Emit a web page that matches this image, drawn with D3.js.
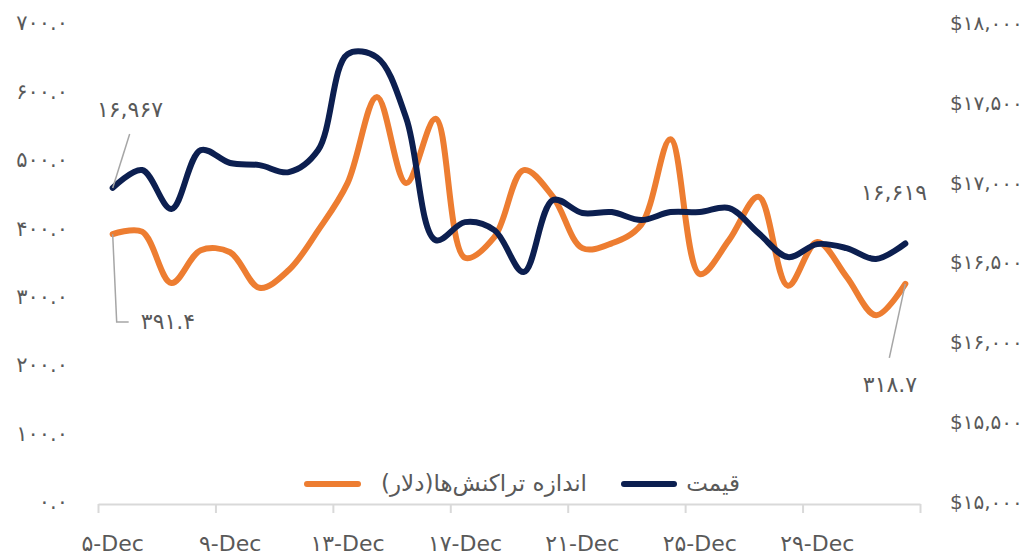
<!DOCTYPE html>
<html>
<head>
<meta charset="utf-8">
<script src="https://cdn.jsdelivr.net/npm/d3@7"></script>
<style>
  body { margin: 0; background: #fff; }
  svg text { font-family: "DejaVu Sans", "Noto Sans", sans-serif; fill: #595959; }
</style>
</head>
<body>
<svg id="chart" width="1035" height="557"></svg>
<script>
// dates (5 Dec - 1 Jan)
var days = ["5-Dec","6-Dec","7-Dec","8-Dec","9-Dec","10-Dec","11-Dec","12-Dec","13-Dec","14-Dec",
            "15-Dec","16-Dec","17-Dec","18-Dec","19-Dec","20-Dec","21-Dec","22-Dec","23-Dec","24-Dec",
            "25-Dec","26-Dec","27-Dec","28-Dec","29-Dec","30-Dec","31-Dec","1-Jan"];

// average transaction size (USD) - left axis
var txSize = [391.4, 395, 320, 368, 365, 313, 339, 397, 466, 592,
              466, 560, 357, 387, 485, 446, 371, 378, 405, 530,
              333, 383, 446, 316, 380, 329, 273, 318.7];

// price - right axis
var price = [16967, 17079, 16835, 17204, 17123, 17110, 17066, 17204, 17805, 17785,
             17404, 16640, 16753, 16703, 16440, 16891, 16810, 16816, 16766, 16816,
             16816, 16841, 16684, 16534, 16615, 16590, 16522, 16619];

var leftTicks = [0, 100, 200, 300, 400, 500, 600, 700];
var rightTicks = [15000, 15500, 16000, 16500, 17000, 17500, 18000];
var labelEvery = 4;

var seriesNames = ["اندازه تراکنش‌ها(دلار)", "قیمت"];
var colors = ["#ED7D31", "#0C1F50"];

// persian digits
function fa(s) {
  return String(s).replace(/[0-9]/g, function(c) { return "۰۱۲۳۴۵۶۷۸۹"[+c]; });
}

var svg = d3.select("#chart");

var x = d3.scaleLinear().domain([0, days.length]).range([98, 920]);
var yL = d3.scaleLinear().domain([0, 700]).range([502, 23]);
var yR = d3.scaleLinear().domain([15000, 18000]).range([502, 23]);

// x axis
var xAxis = d3.axisBottom(x)
  .tickValues(d3.range(0, days.length + 1, labelEvery))
  .tickFormat("")
  .tickSizeInner(9)
  .tickSizeOuter(0);
var gx = svg.append("g").attr("transform", "translate(0,504)").call(xAxis);
gx.select(".domain").attr("stroke", "#d9d9d9").attr("stroke-width", 2);
gx.selectAll(".tick line").attr("stroke", "#d9d9d9").attr("stroke-width", 2);

svg.append("g").selectAll("text")
  .data(days.filter(function(d, i) { return i % labelEvery == 0; }))
  .enter().append("text")
  .attr("x", function(d, i) { return x(i * labelEvery + 0.5); })
  .attr("y", 551)
  .attr("text-anchor", "middle")
  .style("font-size", "22px")
  .text(function(d) { return fa(d); });

// left axis
var gl = svg.append("g").attr("transform", "translate(68,0)")
  .call(d3.axisLeft(yL).tickValues(leftTicks).tickSize(0).tickPadding(0)
    .tickFormat(function(d) { return fa(d.toFixed(1)); }));
gl.select(".domain").remove();
gl.selectAll("text").style("font-size", "21px").attr("fill", "#595959");

// right axis
var gr = svg.append("g").attr("transform", "translate(950,0)")
  .call(d3.axisRight(yR).tickValues(rightTicks).tickSize(0).tickPadding(0)
    .tickFormat(function(d) { return "$" + fa(d3.format(",")(d)); }));
gr.select(".domain").remove();
gr.selectAll("text").style("font-size", "20px").style("letter-spacing", "-1px").attr("fill", "#595959");

// lines
var lineL = d3.line()
  .x(function(d, i) { return x(i + 0.5); })
  .y(function(d) { return yL(d); })
  .curve(d3.curveCatmullRom);
var lineR = d3.line()
  .x(function(d, i) { return x(i + 0.5); })
  .y(function(d) { return yR(d); })
  .curve(d3.curveCatmullRom);

svg.append("path").datum(txSize)
  .attr("d", lineL).attr("fill", "none")
  .attr("stroke", colors[0]).attr("stroke-width", 6).attr("stroke-linecap", "round");
svg.append("path").datum(price)
  .attr("d", lineR).attr("fill", "none")
  .attr("stroke", colors[1]).attr("stroke-width", 6).attr("stroke-linecap", "round");

// data labels
var last = days.length - 1;
var ann = svg.append("g").attr("stroke", "#a6a6a6").attr("stroke-width", 1.5).attr("fill", "none");
ann.append("line").attr("x1", x(0.5)).attr("y1", yR(price[0]))
  .attr("x2", x(0.5) + 17).attr("y2", yR(price[0]) - 54);
ann.append("polyline").attr("points", [
  [x(0.5), yL(txSize[0])], [x(0.5) + 4, 322], [x(0.5) + 16, 322]].join(" "));
ann.append("line").attr("x1", x(last + 0.5)).attr("y1", yL(txSize[last]))
  .attr("x2", x(last + 0.5) - 16).attr("y2", yL(txSize[last]) + 74);

function label(txt, lx, ly) {
  svg.append("text").attr("x", lx).attr("y", ly).attr("text-anchor", "middle")
    .style("font-size", "22px").text(txt);
}
label(fa(d3.format(",")(price[0])), 130, 117);
label(fa(txSize[0].toFixed(1)), 168, 329);
label(fa(d3.format(",")(price[last])), 894, 200);
label(fa(txSize[last].toFixed(1)), 890, 392);

// legend
var legend = [
  { x1: 307, x2: 358, tx: 587 },
  { x1: 624, x2: 674, tx: 740 }
];
legend.forEach(function(l, i) {
  svg.append("line").attr("x1", l.x1).attr("x2", l.x2).attr("y1", 484).attr("y2", 484)
    .attr("stroke", colors[i]).attr("stroke-width", 6).attr("stroke-linecap", "round");
  svg.append("text").attr("x", l.tx).attr("y", 491)
    .attr("direction", "rtl").attr("text-anchor", "start")
    .style("font-size", "23px").text(seriesNames[i]);
});
</script>
</body>
</html>
